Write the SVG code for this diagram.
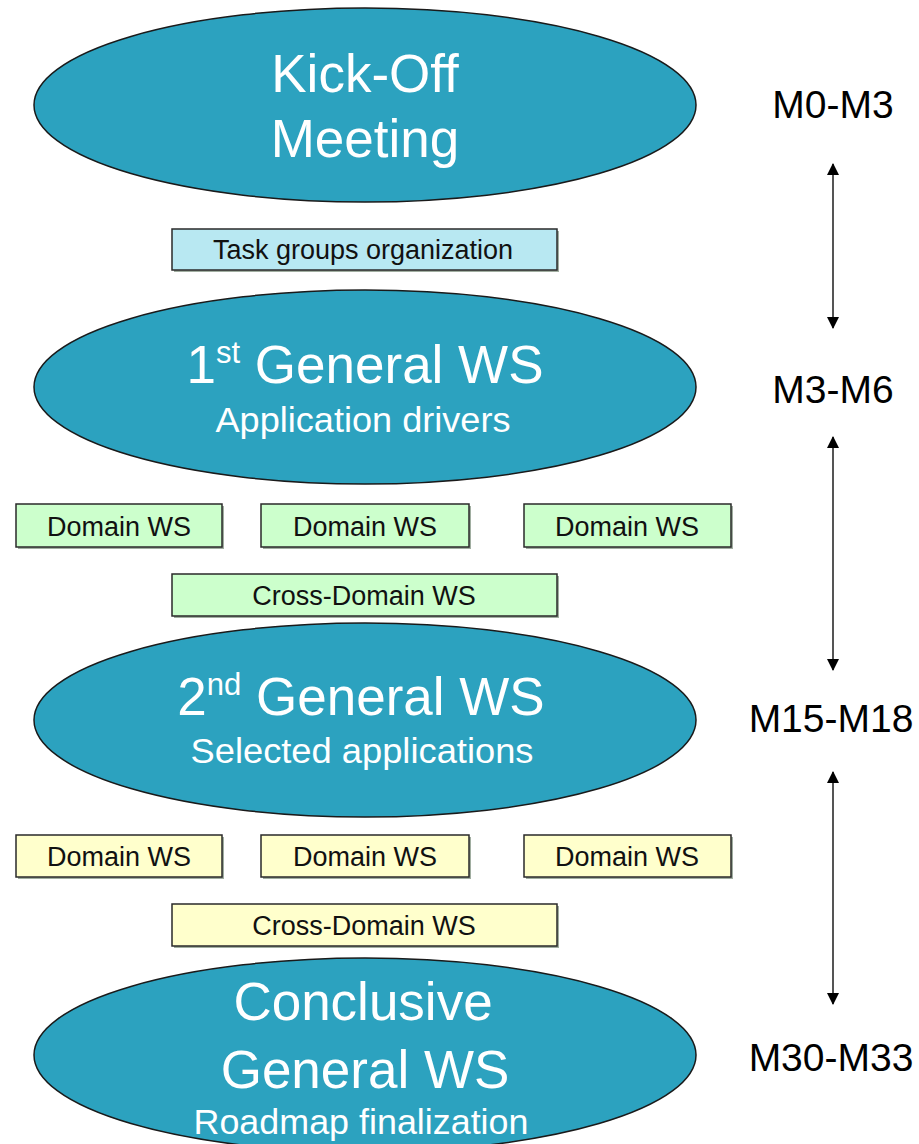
<svg xmlns="http://www.w3.org/2000/svg" width="919" height="1144" viewBox="0 0 919 1144">
  <style>
    .ws { fill: #2ca2bf; stroke: #1a1a1a; stroke-width: 1.5; }
    .big { font-family: "Liberation Sans", Arial, sans-serif; font-size: 53px; fill: #ffffff; text-anchor: middle; }
    .sub { font-family: "Liberation Sans", Arial, sans-serif; font-size: 35px; fill: #ffffff; text-anchor: middle; }
    .box { stroke: #2a2a2a; stroke-width: 1.5; }
    .shadow { fill: #8a9a8a; opacity: 0.8; }
    .cyan { fill: #b8e8f2; }
    .green { fill: #ccffcc; }
    .yellow { fill: #ffffcc; }
    .bt { font-family: "Liberation Sans", Arial, sans-serif; font-size: 27px; fill: #111111; text-anchor: middle; }
    .lbl { font-family: "Liberation Sans", Arial, sans-serif; font-size: 39px; fill: #000000; text-anchor: middle; }
    .arr { stroke: #555555; stroke-width: 2; fill: none; marker-start: url(#ah); marker-end: url(#ah); }
  </style>
  <defs>
    <marker id="ah" viewBox="0 0 12 12" refX="11" refY="6" markerWidth="12" markerHeight="12" markerUnits="userSpaceOnUse" orient="auto-start-reverse">
      <path d="M0,0 L12,6 L0,12 Z" fill="#000000"/>
    </marker>
  </defs>

  <g id="kickoff">
    <ellipse class="ws" cx="365" cy="105" rx="331" ry="97"/>
    <text class="big" x="365" y="92">Kick-Off</text>
    <text class="big" x="365" y="157">Meeting</text>
  </g>

  <g id="task-groups">
    <rect class="shadow" x="174" y="231" width="385" height="41"/>
    <rect class="box cyan" x="172" y="229" width="385" height="41"/>
    <text class="bt" x="363" y="259">Task groups organization</text>
  </g>

  <g id="ws1">
    <ellipse class="ws" cx="365" cy="387" rx="331" ry="97"/>
    <text class="big" x="365" y="383">1<tspan font-size="31" dy="-20">st</tspan><tspan dy="20"> General WS</tspan></text>
    <text class="sub" x="363" y="432" textLength="295" lengthAdjust="spacingAndGlyphs">Application drivers</text>
  </g>

  <g id="green-domain-1">
    <rect class="shadow" x="18" y="506" width="206" height="43"/>
    <rect class="box green" x="16" y="504" width="206" height="43"/>
    <text class="bt" x="119" y="536">Domain WS</text>
  </g>
  <g id="green-domain-2">
    <rect class="shadow" x="263" y="506" width="208" height="43"/>
    <rect class="box green" x="261" y="504" width="208" height="43"/>
    <text class="bt" x="365" y="536">Domain WS</text>
  </g>
  <g id="green-domain-3">
    <rect class="shadow" x="526" y="506" width="207" height="43"/>
    <rect class="box green" x="524" y="504" width="207" height="43"/>
    <text class="bt" x="627" y="536">Domain WS</text>
  </g>
  <g id="green-cross">
    <rect class="shadow" x="174" y="576" width="385" height="42"/>
    <rect class="box green" x="172" y="574" width="385" height="42"/>
    <text class="bt" x="364" y="605">Cross-Domain WS</text>
  </g>

  <g id="ws2">
    <ellipse class="ws" cx="365" cy="720" rx="331" ry="97"/>
    <text class="big" x="361" y="715">2<tspan font-size="31" dy="-20">nd</tspan><tspan dy="20"> General WS</tspan></text>
    <text class="sub" x="362" y="763" textLength="343" lengthAdjust="spacingAndGlyphs">Selected applications</text>
  </g>

  <g id="yellow-domain-1">
    <rect class="shadow" x="18" y="837" width="206" height="42"/>
    <rect class="box yellow" x="16" y="835" width="206" height="42"/>
    <text class="bt" x="119" y="866">Domain WS</text>
  </g>
  <g id="yellow-domain-2">
    <rect class="shadow" x="263" y="837" width="208" height="42"/>
    <rect class="box yellow" x="261" y="835" width="208" height="42"/>
    <text class="bt" x="365" y="866">Domain WS</text>
  </g>
  <g id="yellow-domain-3">
    <rect class="shadow" x="526" y="837" width="207" height="42"/>
    <rect class="box yellow" x="524" y="835" width="207" height="42"/>
    <text class="bt" x="627" y="866">Domain WS</text>
  </g>
  <g id="yellow-cross">
    <rect class="shadow" x="174" y="906" width="385" height="42"/>
    <rect class="box yellow" x="172" y="904" width="385" height="42"/>
    <text class="bt" x="364" y="935">Cross-Domain WS</text>
  </g>

  <g id="ws-conclusive">
    <ellipse class="ws" cx="365" cy="1055" rx="331" ry="97"/>
    <text class="big" x="363" y="1020">Conclusive</text>
    <text class="big" x="365" y="1088">General WS</text>
    <text class="sub" x="361" y="1134" textLength="335" lengthAdjust="spacingAndGlyphs">Roadmap finalization</text>
  </g>

  <g id="labels">
    <text class="lbl" x="833" y="118">M0-M3</text>
    <text class="lbl" x="833" y="403">M3-M6</text>
    <text class="lbl" x="831" y="732">M15-M18</text>
    <text class="lbl" x="831" y="1071">M30-M33</text>
  </g>

  <g id="connectors">
    <line class="arr" x1="833" y1="164" x2="833" y2="328"/>
    <line class="arr" x1="833" y1="437" x2="833" y2="670"/>
    <line class="arr" x1="833" y1="772" x2="833" y2="1004"/>
  </g>
</svg>
